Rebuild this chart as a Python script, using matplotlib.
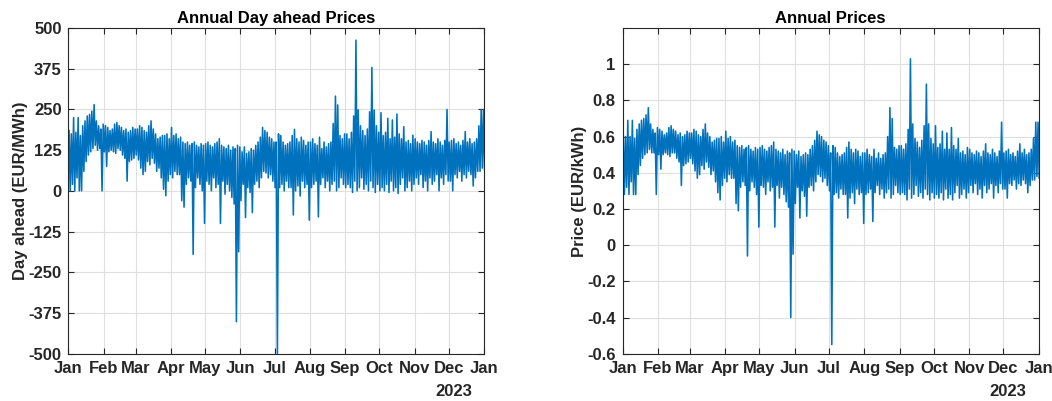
import numpy as np
import matplotlib
matplotlib.use("Agg")
import matplotlib.pyplot as plt
import matplotlib.dates as mdates
import datetime as dt

# Werte je 2-Tages-Fenster (Tageshoch / Tagestief)
# Day ahead (EUR/MWh)
da_hi = [
    185, 175, 225, 180, 225, 170, 200, 215, 230, 235, 245, 265, 215, 200, 190, 205,   # Jan
    200, 195, 185, 190, 205, 210, 200, 195, 185, 190, 180, 185, 195, 190,             # Feb
    190, 200, 195, 185, 180, 200, 215, 190, 175, 160, 165, 170, 170, 175, 160,        # Mar
    195, 170, 175, 160, 165, 150, 145, 150, 140, 145, 150, 140, 135, 145, 140,        # Apr
    145, 150, 140, 135, 145, 150, 160, 140, 135, 130, 140, 125, 135, 130, 140, 135,   # May
    120, 135, 115, 120, 130, 125, 140, 150, 165, 195, 185, 180, 165, 160, 150,        # Jun
    150, 175, 170, 150, 140, 145, 150, 170, 189, 160, 150, 165, 155, 140, 150,        # Jul
    150, 160, 145, 140, 165, 130, 150, 135, 145, 150, 207, 291, 264, 170, 160, 175,   # Aug
    175, 160, 180, 230, 463, 249, 200, 185, 170, 190, 243, 379, 248, 200, 180,        # Sep
    240, 170, 180, 223, 160, 218, 165, 236, 175, 160, 197, 150, 155, 145, 171,        # Oct
    160, 150, 145, 155, 150, 140, 155, 182, 150, 145, 160, 150, 140, 155, 250,        # Nov
    150, 155, 160, 145, 150, 140, 155, 182, 150, 160, 145, 150, 160, 200, 250, 250,   # Dec
]
da_lo = [
    0, 20, 0, 40, 0, 0, 60, 90, 110, 120, 130, 140, 125, 130, 0, 120,
    75, 120, 125, 120, 115, 130, 125, 110, 100, 30, 90, 95, 100, 110,
    95, 70, 50, 60, 90, 80, 100, 85, 60, 70, 40, 5, -15, 30, 50,
    40, 60, 50, 50, -30, -50, 20, 40, 30, -195, 10, 40, 20, 0, -100,
    30, 20, 0, 40, 10, 20, -100, 30, -10, 20, 0, -20, -40, -402, -187, -30,
    20, -82, 10, -5, -67, 20, 30, 10, 40, 60, 55, 40, 50, 30, 10,
    -500, 10, 20, 0, 30, 10, 10, -74, 0, 15, -16, 30, 10, 20, -90,
    10, 20, 30, -80, 20, 40, 10, 30, 0, 20, 30, 0, 10, 40, 20, 10,
    20, 10, -5, 30, 0, 10, 40, 5, 20, 0, 30, 10, -5, 20, 0,
    10, 0, 20, -5, 30, 0, 10, -8, 20, 40, 0, 10, 30, 0, 20,
    40, 20, 50, 10, 30, 0, 40, 20, 30, 50, 0, 40, 20, 50, 30,
    30, 0, 50, 40, 60, 30, 50, 40, 60, 50, 15, 40, 60, 60, 70, 65,
]

# Price (EUR/kWh)
pr_hi = [
    0.61, 0.60, 0.69, 0.60, 0.69, 0.59, 0.64, 0.67, 0.69, 0.70, 0.72, 0.76, 0.67, 0.64, 0.62, 0.65,
    0.64, 0.63, 0.61, 0.62, 0.65, 0.66, 0.64, 0.63, 0.61, 0.62, 0.60, 0.61, 0.63, 0.62,
    0.62, 0.64, 0.63, 0.61, 0.60, 0.64, 0.67, 0.62, 0.60, 0.57, 0.58, 0.59, 0.59, 0.60, 0.57,
    0.63, 0.59, 0.60, 0.57, 0.58, 0.55, 0.54, 0.55, 0.53, 0.54, 0.55, 0.53, 0.52, 0.54, 0.53,
    0.54, 0.55, 0.53, 0.52, 0.54, 0.55, 0.57, 0.53, 0.52, 0.51, 0.53, 0.50, 0.52, 0.51, 0.53, 0.52,
    0.50, 0.52, 0.49, 0.50, 0.51, 0.50, 0.53, 0.55, 0.58, 0.63, 0.61, 0.60, 0.58, 0.57, 0.55,
    0.51, 0.55, 0.54, 0.51, 0.49, 0.50, 0.51, 0.54, 0.57, 0.53, 0.51, 0.53, 0.52, 0.49, 0.51,
    0.51, 0.53, 0.50, 0.49, 0.53, 0.48, 0.51, 0.48, 0.50, 0.51, 0.60, 0.76, 0.70, 0.54, 0.53, 0.55,
    0.55, 0.53, 0.56, 0.64, 1.03, 0.67, 0.59, 0.57, 0.54, 0.58, 0.66, 0.89, 0.67, 0.59, 0.56,
    0.66, 0.54, 0.56, 0.63, 0.53, 0.62, 0.53, 0.65, 0.55, 0.53, 0.59, 0.51, 0.52, 0.50, 0.54,
    0.53, 0.51, 0.50, 0.52, 0.51, 0.49, 0.52, 0.56, 0.51, 0.50, 0.53, 0.51, 0.49, 0.52, 0.68,
    0.51, 0.52, 0.53, 0.50, 0.51, 0.49, 0.52, 0.56, 0.51, 0.53, 0.50, 0.51, 0.53, 0.59, 0.68, 0.68,
]
pr_lo = [
    0.28, 0.32, 0.28, 0.35, 0.28, 0.28, 0.39, 0.44, 0.48, 0.50, 0.51, 0.53, 0.51, 0.51, 0.28, 0.50,
    0.42, 0.50, 0.51, 0.50, 0.49, 0.51, 0.51, 0.48, 0.46, 0.33, 0.44, 0.45, 0.46, 0.48,
    0.45, 0.41, 0.37, 0.39, 0.44, 0.42, 0.46, 0.43, 0.39, 0.41, 0.35, 0.29, 0.25, 0.33, 0.37,
    0.35, 0.39, 0.37, 0.37, 0.23, 0.19, 0.32, 0.35, 0.33, -0.06, 0.30, 0.35, 0.32, 0.28, 0.10,
    0.33, 0.32, 0.28, 0.35, 0.30, 0.32, 0.10, 0.33, 0.26, 0.32, 0.28, 0.24, 0.21, -0.40, -0.05, 0.23,
    0.32, 0.15, 0.30, 0.27, 0.16, 0.32, 0.33, 0.30, 0.35, 0.39, 0.38, 0.35, 0.37, 0.33, 0.30,
    -0.55, 0.28, 0.29, 0.26, 0.31, 0.28, 0.28, 0.15, 0.26, 0.29, 0.23, 0.31, 0.28, 0.29, 0.12,
    0.28, 0.29, 0.31, 0.13, 0.29, 0.33, 0.28, 0.31, 0.26, 0.29, 0.31, 0.26, 0.28, 0.33, 0.29, 0.28,
    0.29, 0.28, 0.25, 0.31, 0.26, 0.28, 0.33, 0.27, 0.29, 0.26, 0.31, 0.28, 0.25, 0.29, 0.26,
    0.28, 0.26, 0.29, 0.25, 0.31, 0.26, 0.28, 0.25, 0.29, 0.33, 0.26, 0.28, 0.31, 0.26, 0.29,
    0.33, 0.29, 0.34, 0.28, 0.31, 0.26, 0.33, 0.29, 0.31, 0.34, 0.26, 0.33, 0.29, 0.34, 0.31,
    0.31, 0.26, 0.34, 0.33, 0.36, 0.31, 0.34, 0.33, 0.36, 0.34, 0.29, 0.33, 0.36, 0.36, 0.38, 0.37,
]

months = ['Jan', 'Feb', 'Mar', 'Apr', 'May', 'Jun', 'Jul', 'Aug', 'Sep', 'Oct', 'Nov', 'Dec', 'Jan']

plt.rcParams['font.family'] = ['Liberation Sans', 'DejaVu Sans']
plt.rcParams['font.weight'] = 'bold'
plt.rcParams['axes.unicode_minus'] = False

start = dt.datetime(2023, 1, 1)
t0 = mdates.date2num(start)


def zigzag(hi, lo):
    xs, ys = [], []
    for k in range(len(hi)):
        xs += [t0 + 2 * k + 0.5, t0 + 2 * k + 1.5]
        ys += [hi[k], lo[k]]
    return np.array(xs), np.array(ys)


fig = plt.figure(figsize=(10.52, 4.01), dpi=100)
ax1 = fig.add_axes([0.0651, 0.118, 0.3950, 0.812])
ax2 = fig.add_axes([0.5919, 0.118, 0.3954, 0.812])

blue = '#0072BD'
dark = '#262626'
fs = 12
tick_pos = [mdates.date2num(dt.datetime(2023 + (m // 12), m % 12 + 1, 1)) for m in range(13)]

for ax, hi, lo, title, ylab in [(ax1, da_hi, da_lo, 'Annual Day ahead Prices', 'Day ahead (EUR/MWh)'),
                                (ax2, pr_hi, pr_lo, 'Annual Prices', 'Price (EUR/kWh)')]:
    x, y = zigzag(hi, lo)
    ax.plot(x, y, color=blue, lw=1.15)
    ax.set_xlim(tick_pos[0], tick_pos[-1])
    ax.set_xticks(tick_pos)
    ax.set_xticklabels(months)
    ax.grid(True, color='#dfdfdf', lw=0.8)
    ax.set_axisbelow(True)
    ax.tick_params(direction='in', length=4, width=0.8, colors=dark, labelsize=fs,
                   top=True, right=True, pad=5)
    for s in ax.spines.values():
        s.set_color(dark)
        s.set_linewidth(0.8)
    ax.set_title(title, fontsize=fs, fontweight='bold', color='black', pad=4)
    ax.set_ylabel(ylab, fontsize=fs, fontweight='bold', color=dark, labelpad=0.5)

ax1.set_ylim(-500, 500)
ax1.set_yticks(np.arange(-500, 501, 125))
ax2.set_ylim(-0.6, 1.2)
ax2.set_yticks([-0.6, -0.4, -0.2, 0, 0.2, 0.4, 0.6, 0.8, 1.0])
ax2.set_yticklabels(['-0.6', '-0.4', '-0.2', '0', '0.2', '0.4', '0.6', '0.8', '1'])

fig.text(453.7 / 1052, 1 - 391.7 / 401, '2023', ha='center', va='center', fontsize=fs,
         fontweight='bold', color=dark)
fig.text(1007.7 / 1052, 1 - 391.7 / 401, '2023', ha='center', va='center', fontsize=fs,
         fontweight='bold', color=dark)

fig.savefig('out.png', dpi=100)
